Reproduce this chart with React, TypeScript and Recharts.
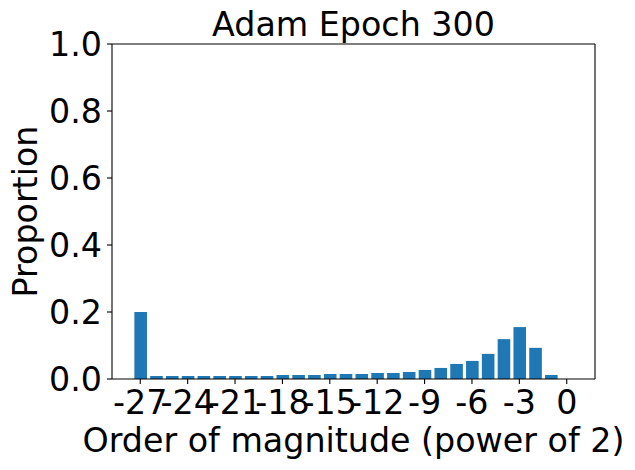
import React from 'react';
import { BarChart, Bar, XAxis, YAxis, Label, ReferenceLine } from 'recharts';

const orders = [-27, -26, -25, -24, -23, -22, -21, -20, -19, -18, -17, -16, -15, -14, -13, -12, -11, -10, -9, -8, -7, -6, -5, -4, -3, -2, -1, 0];
const proportions = [0.2, 0.009, 0.009, 0.009, 0.009, 0.009, 0.009, 0.009, 0.009, 0.012, 0.012, 0.012, 0.015, 0.015, 0.015, 0.018, 0.018, 0.021, 0.027, 0.033, 0.045, 0.054, 0.075, 0.119, 0.155, 0.093, 0.012, 0.0];
const xTicks = [-27, -24, -21, -18, -15, -12, -9, -6, -3, 0];
const yTicks = [0, 0.2, 0.4, 0.6, 0.8, 1.0];
const title = 'Adam Epoch 300';
const xLabel = 'Order of magnitude (power of 2)';
const yLabel = 'Proportion';

const data = orders.map((o, i) => ({ order: o, proportion: proportions[i] }));

const FONT = 'DejaVu Sans';
const FS = 33.3;
const textStyle = { fontSize: FS, fill: '#000', fontFamily: FONT };
const xDomain: [number, number] = [-28.79, 1.79];
const yDomain: [number, number] = [0, 1];

const YLabelContent = (props: any) => {
  const vb = props.viewBox || {};
  const cx = 37;
  const cy = (vb.y || 0) + (vb.height || 0) / 2;
  return (
    <text x={cx} y={cy} transform={`rotate(-90 ${cx} ${cy})`} textAnchor="middle" style={textStyle}>
      {yLabel}
    </text>
  );
};

export default function App() {
  return (
    <div style={{ position: 'absolute', left: 0, top: 0, width: 635, height: 470, background: '#fff' }}>
      <BarChart width={635} height={470} data={data} margin={{ top: 44, right: 40, bottom: 0, left: 0 }}>
        <XAxis
          dataKey="order"
          type="number"
          domain={xDomain}
          allowDataOverflow
          ticks={xTicks}
          interval={0}
          height={91}
          tickSize={5}
          tickMargin={6}
          tick={textStyle}
          tickFormatter={(v: number) => String(v)}
          axisLine={{ stroke: '#000', strokeWidth: 1.1 }}
          tickLine={{ stroke: '#000', strokeWidth: 1.1 }}
        >
          <Label value={xLabel} position="insideBottom" offset={18} style={textStyle} />
        </XAxis>
        <YAxis
          type="number"
          domain={yDomain}
          ticks={yTicks}
          interval={0}
          width={112}
          tickSize={5}
          tickMargin={5}
          tick={textStyle}
          tickFormatter={(v: number) => v.toFixed(1)}
          axisLine={{ stroke: '#000', strokeWidth: 1.1 }}
          tickLine={{ stroke: '#000', strokeWidth: 1.1 }}
        >
          <Label content={YLabelContent} />
        </YAxis>
        <Bar dataKey="proportion" fill="#1f77b4" barSize={12.6} isAnimationActive={false} />
        <ReferenceLine y={yDomain[1]} stroke="#000" strokeWidth={1.1} ifOverflow="extendDomain">
          <Label value={title} position="top" offset={8} style={textStyle} />
        </ReferenceLine>
        <ReferenceLine x={xDomain[1]} stroke="#000" strokeWidth={1.1} />
      </BarChart>
    </div>
  );
}
